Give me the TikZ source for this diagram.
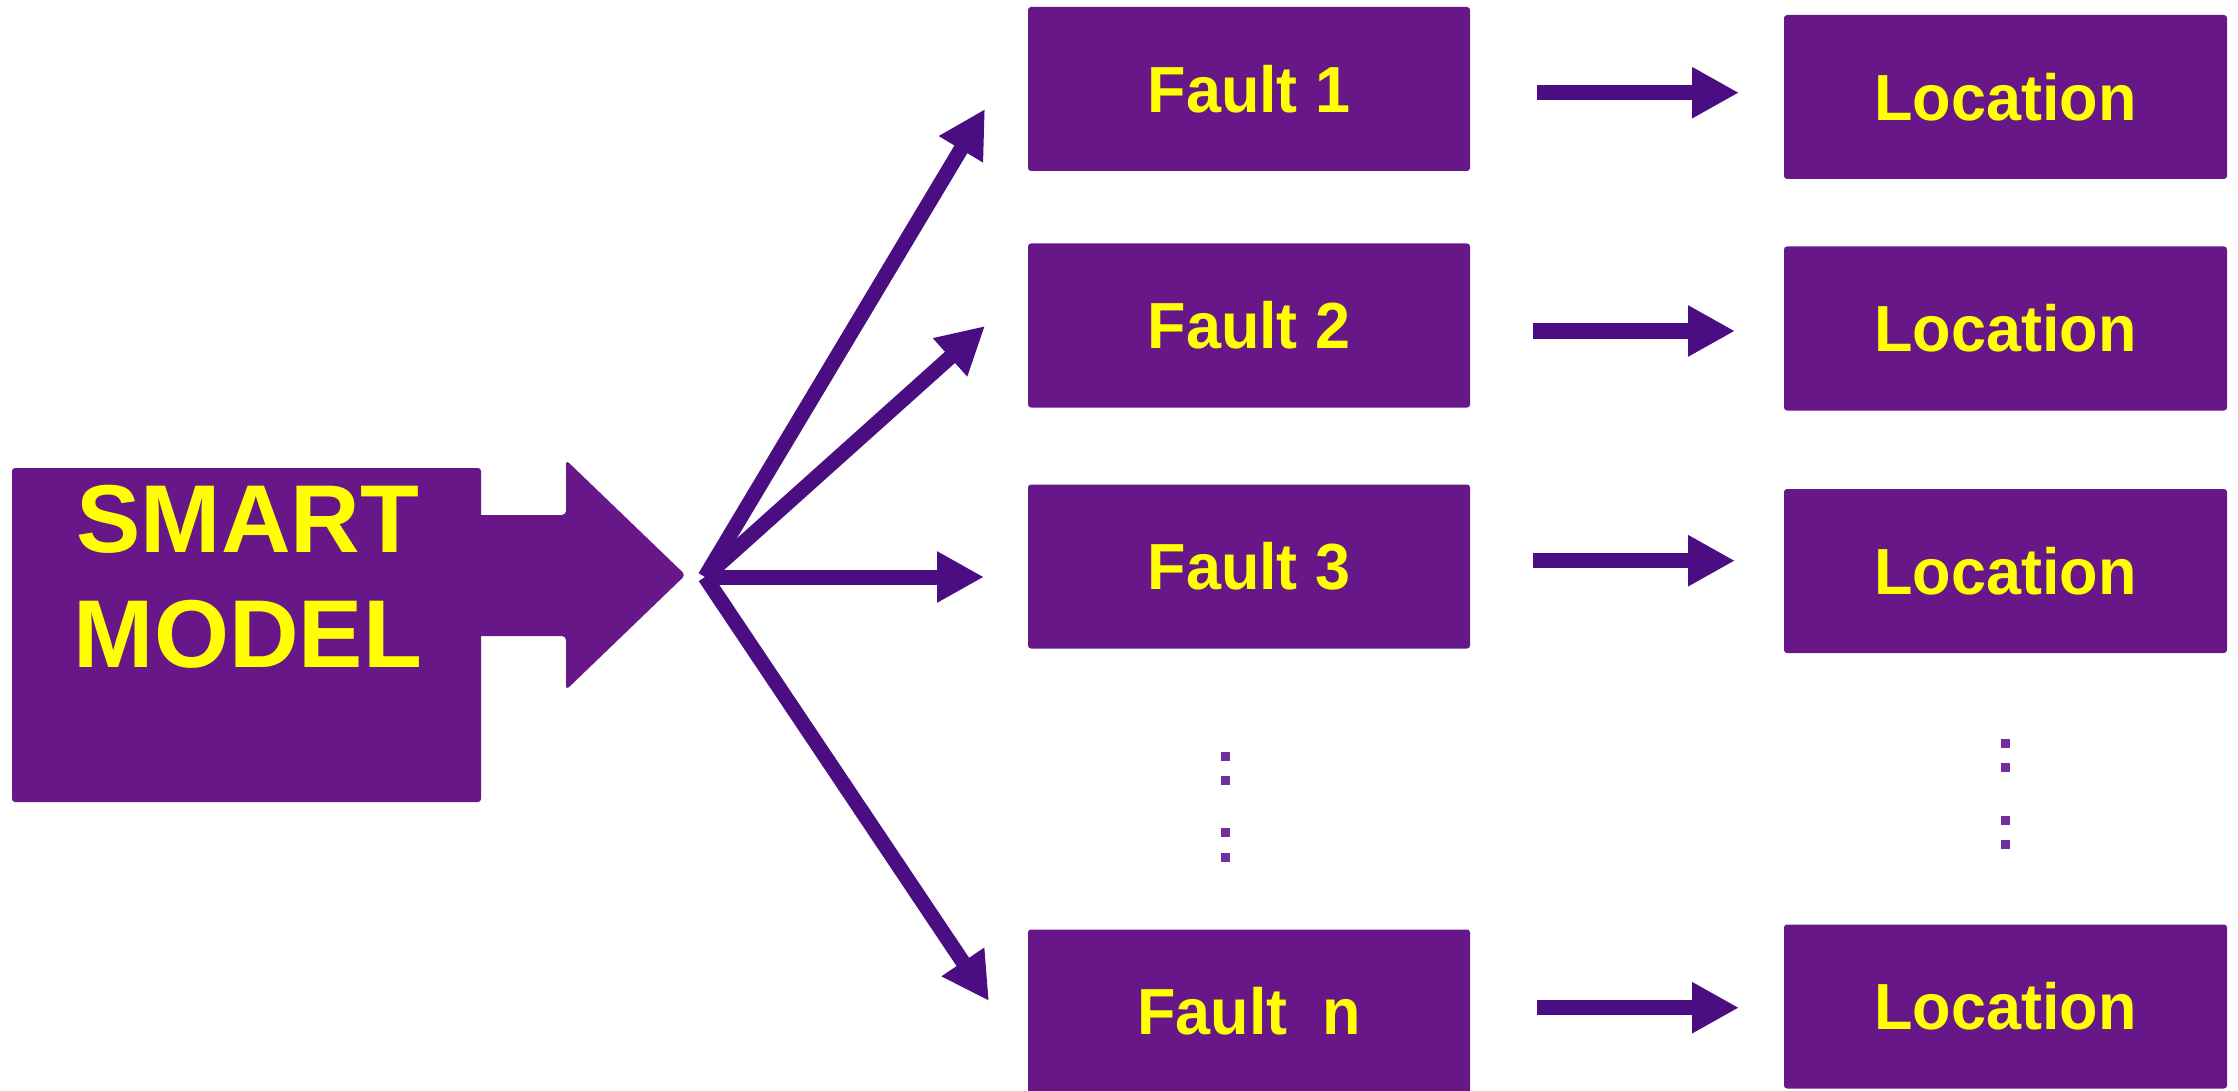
\documentclass[tikz,border=0pt]{standalone}
\usepackage{fontspec}
\usepackage{graphicx}
\setmainfont{Liberation Sans}
\usetikzlibrary{arrows.meta}
\definecolor{boxpurple}{HTML}{681789}
\definecolor{arrowpurple}{HTML}{4B0D82}
\definecolor{dotpurple}{HTML}{7030A0}
\definecolor{txtyellow}{HTML}{FFFF00}
\newcommand{\narrowtxt}[1]{\scalebox{0.965}[1]{#1}}
\tikzset{
  faultbox/.style={fill=boxpurple, rounded corners=1.5pt, minimum width=221pt, minimum height=82pt,
    inner sep=0pt, text=txtyellow, font=\fontsize{32.6pt}{39pt}\selectfont\bfseries},
  locbox/.style={faultbox, minimum width=221.5pt},
  fatarrow/.style={draw=arrowpurple, line width=7.5pt, line cap=butt,
    -{Triangle[length=23.5pt,width=24pt]}},
  dotsq/.style={fill=dotpurple}
}
\begin{document}
\begin{tikzpicture}[x=0.5pt,y=-0.5pt]
\useasboundingbox (0,0) rectangle (2238,1091);

% SMART MODEL block with big arrow
\node[fill=boxpurple, rounded corners=1.5pt, minimum width=234.5pt, minimum height=167pt, inner sep=0pt]
  (smart) at (246.5,635) {};
\fill[boxpurple, rounded corners=2pt] (470,515) -- (566,515) -- (566,460) -- (685.5,575)
  -- (566,690) -- (566,636) -- (470,636) -- cycle;
\node[text=txtyellow, align=center, inner sep=0pt,
  font=\fontsize{48.2pt}{57.5pt}\selectfont\bfseries] (smarttext) at (248,577) {SMART\\MODEL};

% Fault boxes
\node[faultbox] (F1) at (1249,89) {\narrowtxt{Fault 1}};
\node[faultbox] (F2) at (1249,325.5) {\narrowtxt{Fault 2}};
\node[faultbox] (F3) at (1249,566.5) {\narrowtxt{Fault 3}};
\node[faultbox] (Fn) at (1249,1011.5) {\narrowtxt{Fault\ \ n}};

% Location boxes
\node[locbox] (L1) at (2005.5,97) {\narrowtxt{Location}};
\node[locbox] (L2) at (2005.5,328.5) {\narrowtxt{Location}};
\node[locbox] (L3) at (2005.5,571) {\narrowtxt{Location}};
\node[locbox] (Ln) at (2005.5,1006.5) {\narrowtxt{Location}};

% fan arrows
\coordinate (hub) at (705,577);
\coordinate (t1) at (985,109);
\coordinate (t2) at (985,326);
\coordinate (t3) at (984,577);
\coordinate (tn) at (989,1001);
\draw[fatarrow] (hub) -- (t1);
\draw[fatarrow] (hub) -- (t2);
\draw[fatarrow] (hub) -- (t3);
\draw[fatarrow] (hub) -- (tn);

% small arrows
\coordinate (s1) at (1537,92.7);  \coordinate (e1) at (1739,92.7);
\coordinate (s2) at (1533,331);   \coordinate (e2) at (1735,331);
\coordinate (s3) at (1533,560.7); \coordinate (e3) at (1735,560.7);
\coordinate (sn) at (1537,1007.7);\coordinate (en) at (1739,1007.7);
\draw[fatarrow] (s1) -- (e1);
\draw[fatarrow] (s2) -- (e2);
\draw[fatarrow] (s3) -- (e3);
\draw[fatarrow] (sn) -- (en);

% vertical ellipses
\foreach \yy in {752,776,828,853} {\fill[dotsq] (1221,\yy) rectangle ++(9,9);}
\foreach \yy in {739,763,816,840} {\fill[dotsq] (2001,\yy) rectangle ++(9,9);}
\end{tikzpicture}
\end{document}
